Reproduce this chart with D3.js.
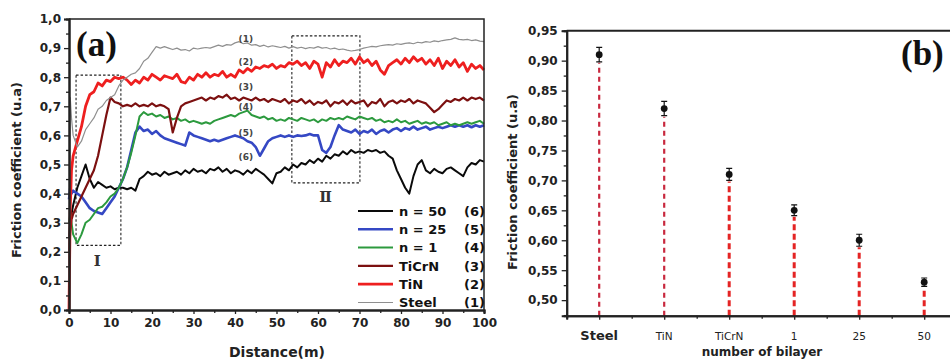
<!DOCTYPE html>
<html>
<head>
<meta charset="utf-8">
<script src="https://cdn.jsdelivr.net/npm/d3@7"></script>
<style>
  html, body { margin: 0; padding: 0; background: #fff; }
  svg { display: block; }
  text { font-family: "DejaVu Sans", "Liberation Sans", Arial, sans-serif; }
</style>
</head>
<body>
<svg id="chart" width="950" height="361"></svg>
<script>
// ---------- panel (a): friction coefficient versus sliding distance ----------
// sampling grid in metres: a few early samples, then every metre
const distance = [0, 0.3, 0.6].concat(d3.range(1, 101));

const steel = [0.10, 0.73, 0.66,
  0.60, 0.56, 0.58, 0.62, 0.64, 0.66, 0.69, 0.70, 0.72, 0.73,
  0.74, 0.77, 0.79, 0.80, 0.81, 0.815, 0.83, 0.855, 0.865, 0.885,
  0.905, 0.90, 0.905, 0.90, 0.895, 0.90, 0.893, 0.895, 0.89, 0.90,
  0.897, 0.90, 0.902, 0.90, 0.905, 0.91, 0.906, 0.912, 0.91, 0.918,
  0.922, 0.915, 0.918, 0.91, 0.912, 0.906, 0.91, 0.904, 0.908, 0.905,
  0.902, 0.906, 0.90, 0.905, 0.90, 0.903, 0.898, 0.902, 0.90, 0.905,
  0.90, 0.902, 0.897, 0.90, 0.895, 0.897, 0.893, 0.89, 0.892, 0.895,
  0.90, 0.903, 0.906, 0.904, 0.908, 0.91, 0.912, 0.91, 0.915, 0.913,
  0.916, 0.918, 0.915, 0.92, 0.918, 0.922, 0.92, 0.925, 0.922, 0.926,
  0.928, 0.93, 0.935, 0.93, 0.928, 0.93, 0.926, 0.928, 0.924, 0.922];

const tin = [0.00, 0.35, 0.48,
  0.53, 0.58, 0.63, 0.70, 0.74, 0.75, 0.78, 0.77, 0.79, 0.785,
  0.80, 0.795, 0.80, 0.79, 0.775, 0.79, 0.78, 0.80, 0.79, 0.81,
  0.80, 0.79, 0.805, 0.80, 0.795, 0.81, 0.785, 0.78, 0.80, 0.79,
  0.81, 0.80, 0.815, 0.80, 0.81, 0.805, 0.82, 0.80, 0.81, 0.80,
  0.825, 0.815, 0.83, 0.82, 0.835, 0.83, 0.84, 0.835, 0.845, 0.83,
  0.84, 0.835, 0.85, 0.845, 0.855, 0.84, 0.85, 0.83, 0.855, 0.845,
  0.80, 0.85, 0.835, 0.86, 0.84, 0.855, 0.85, 0.865, 0.845, 0.87,
  0.85, 0.86, 0.84, 0.855, 0.825, 0.81, 0.84, 0.85, 0.86, 0.845,
  0.865, 0.85, 0.87, 0.855, 0.865, 0.845, 0.86, 0.84, 0.865, 0.83,
  0.855, 0.84, 0.86, 0.835, 0.85, 0.82, 0.845, 0.83, 0.84, 0.825];

const ticrn = [0.20, 0.27, 0.31,
  0.33, 0.36, 0.39, 0.42, 0.45, 0.48, 0.53, 0.60, 0.67, 0.73,
  0.715, 0.71, 0.70, 0.705, 0.70, 0.71, 0.70, 0.705, 0.70, 0.71,
  0.70, 0.705, 0.70, 0.69, 0.61, 0.66, 0.70, 0.71, 0.715, 0.72,
  0.725, 0.73, 0.72, 0.73, 0.725, 0.735, 0.73, 0.74, 0.725, 0.73,
  0.72, 0.73, 0.725, 0.72, 0.73, 0.72, 0.725, 0.715, 0.725, 0.72,
  0.715, 0.725, 0.71, 0.72, 0.715, 0.725, 0.71, 0.72, 0.705, 0.715,
  0.71, 0.72, 0.70, 0.715, 0.71, 0.72, 0.705, 0.72, 0.71, 0.715,
  0.72, 0.70, 0.715, 0.71, 0.725, 0.70, 0.715, 0.72, 0.71, 0.72,
  0.715, 0.725, 0.71, 0.72, 0.715, 0.71, 0.695, 0.68, 0.69, 0.705,
  0.72, 0.715, 0.725, 0.72, 0.73, 0.72, 0.73, 0.725, 0.73, 0.72];

const n1 = [0.30, 0.33, 0.30,
  0.26, 0.23, 0.26, 0.30, 0.31, 0.33, 0.35, 0.355, 0.37, 0.39,
  0.40, 0.42, 0.45, 0.49, 0.54, 0.60, 0.665, 0.68, 0.67, 0.675,
  0.665, 0.67, 0.66, 0.665, 0.655, 0.66, 0.65, 0.655, 0.645, 0.65,
  0.645, 0.64, 0.645, 0.64, 0.65, 0.655, 0.66, 0.665, 0.67, 0.665,
  0.675, 0.68, 0.685, 0.67, 0.665, 0.66, 0.665, 0.655, 0.66, 0.65,
  0.655, 0.65, 0.66, 0.655, 0.65, 0.66, 0.655, 0.65, 0.655, 0.645,
  0.655, 0.65, 0.66, 0.655, 0.66, 0.655, 0.665, 0.66, 0.655, 0.665,
  0.66, 0.655, 0.66, 0.65, 0.655, 0.645, 0.65, 0.645, 0.655, 0.645,
  0.65, 0.64, 0.645, 0.65, 0.64, 0.645, 0.64, 0.645, 0.635, 0.64,
  0.645, 0.635, 0.64, 0.635, 0.64, 0.645, 0.64, 0.645, 0.65, 0.64];

const n25 = [0.38, 0.42, 0.40,
  0.41, 0.40, 0.39, 0.37, 0.35, 0.34, 0.335, 0.33, 0.35, 0.37,
  0.39, 0.42, 0.45, 0.49, 0.55, 0.61, 0.63, 0.615, 0.62, 0.605,
  0.615, 0.60, 0.59, 0.585, 0.58, 0.575, 0.57, 0.565, 0.61, 0.60,
  0.595, 0.59, 0.585, 0.58, 0.585, 0.58, 0.585, 0.59, 0.595, 0.60,
  0.595, 0.59, 0.58, 0.575, 0.56, 0.53, 0.555, 0.58, 0.59, 0.595,
  0.60, 0.595, 0.60, 0.595, 0.60, 0.598, 0.60, 0.605, 0.60, 0.60,
  0.55, 0.54, 0.56, 0.60, 0.635, 0.62, 0.615, 0.61, 0.62, 0.605,
  0.615, 0.61, 0.62, 0.605, 0.615, 0.62, 0.61, 0.62, 0.625, 0.615,
  0.625, 0.62, 0.63, 0.62, 0.625, 0.63, 0.62, 0.625, 0.63, 0.625,
  0.63, 0.635, 0.63, 0.635, 0.63, 0.635, 0.628, 0.635, 0.63, 0.635];

const n50 = [0.25, 0.30, 0.33,
  0.36, 0.42, 0.46, 0.50, 0.45, 0.42, 0.44, 0.43, 0.42, 0.425,
  0.415, 0.42, 0.42, 0.415, 0.42, 0.41, 0.45, 0.46, 0.475, 0.465,
  0.47, 0.46, 0.475, 0.465, 0.47, 0.475, 0.465, 0.48, 0.47, 0.485,
  0.475, 0.48, 0.47, 0.485, 0.48, 0.49, 0.475, 0.485, 0.47, 0.48,
  0.475, 0.465, 0.48, 0.47, 0.485, 0.475, 0.465, 0.45, 0.435, 0.47,
  0.475, 0.49, 0.48, 0.50, 0.49, 0.505, 0.50, 0.515, 0.505, 0.52,
  0.51, 0.53, 0.52, 0.535, 0.53, 0.545, 0.535, 0.55, 0.54, 0.545,
  0.54, 0.55, 0.545, 0.55, 0.54, 0.545, 0.53, 0.52, 0.48, 0.45,
  0.42, 0.40, 0.46, 0.50, 0.515, 0.48, 0.47, 0.485, 0.475, 0.47,
  0.485, 0.49, 0.48, 0.47, 0.46, 0.49, 0.505, 0.50, 0.515, 0.51];

// legend order (top to bottom) and curve numbers
const seriesNames = ["n = 50", "n = 25", "n = 1", "TiCrN", "TiN", "Steel"];
const seriesNumbers = ["(6)", "(5)", "(4)", "(3)", "(2)", "(1)"];
const seriesValues = [n50, n25, n1, ticrn, tin, steel];

const distanceTicks = d3.range(0, 101, 10);
const frictionTicksA = d3.range(0, 10.5, 1).map(d => d / 10);

// ---------- panel (b): mean friction coefficient per coating ----------
const layers = ["Steel", "TiN", "TiCrN", "1", "25", "50"];
const meanFriction = [0.91, 0.82, 0.71, 0.65, 0.60, 0.53];
const frictionError = [0.012, 0.012, 0.010, 0.009, 0.010, 0.007];
const frictionTicksB = [0.50, 0.55, 0.60, 0.65, 0.70, 0.75, 0.80, 0.85, 0.90, 0.95];

// ---------- styles ----------
const seriesStyle = [
  { color: "#0a0a0a", width: 2.0 },
  { color: "#3548c4", width: 2.6 },
  { color: "#2c9a3e", width: 2.0 },
  { color: "#7c1010", width: 2.2 },
  { color: "#ee1f1f", width: 2.8 },
  { color: "#8f8f8f", width: 1.2 }
];
const axisColor = "#222";

const comma = d3.formatLocale({ decimal: ",", thousands: ".", grouping: [3], currency: ["", ""] });
const fmt1 = comma.format(".1f");
const fmt2 = comma.format(".2f");

const svg = d3.select("#chart");
svg.append("rect").attr("width", 950).attr("height", 361).attr("fill", "#fff");

// =============== panel (a) ===============
const xA = d3.scaleLinear().domain([0, 100]).range([69, 484]);
const yA = d3.scaleLinear().domain([0, 1]).range([310, 19]);

const gA = svg.append("g");

// dashed zoom boxes I and II (data units)
const zoomBoxes = [
  { x0: 1.7, x1: 12.5, y0: 0.222, y1: 0.807, label: "I", lx: 6.8, ly: 0.151 },
  { x0: 53.7, x1: 70.1, y0: 0.437, y1: 0.942, label: "Ⅱ", lx: 61.8, ly: 0.372 }
];
zoomBoxes.forEach(b => {
  gA.append("rect")
    .attr("x", xA(b.x0)).attr("y", yA(b.y1))
    .attr("width", xA(b.x1) - xA(b.x0)).attr("height", yA(b.y0) - yA(b.y1))
    .attr("fill", "none").attr("stroke", "#222").attr("stroke-width", 1.1)
    .attr("stroke-dasharray", "2.5,2");
  gA.append("text")
    .attr("x", xA(b.lx)).attr("y", yA(b.ly))
    .attr("text-anchor", "middle")
    .style("font-family", "'DejaVu Serif', 'Liberation Serif', serif")
    .style("font-size", "15px").style("font-weight", "bold").attr("fill", "#333")
    .text(b.label);
});

// curves
const lineA = d3.line().x((d, i) => xA(distance[i])).y(d => yA(d));
seriesValues.forEach((vals, k) => {
  gA.append("path")
    .datum(vals)
    .attr("d", lineA)
    .attr("fill", "none")
    .attr("stroke", seriesStyle[k].color)
    .attr("stroke-width", seriesStyle[k].width)
    .attr("stroke-linejoin", "round");
});

// curve numbers above each curve
const curveLabelY = [0.526, 0.608, 0.698, 0.766, 0.852, 0.93];
seriesNumbers.forEach((t, k) => {
  gA.append("text")
    .attr("x", xA(42.6)).attr("y", yA(curveLabelY[k]) + 3)
    .attr("text-anchor", "middle")
    .style("font-size", "9px").style("font-weight", "bold")
    .attr("fill", "#444")
    .text(t);
});

// axes
gA.append("g").attr("transform", `translate(${xA(0)},0)`)
  .call(d3.axisLeft(yA).tickValues(frictionTicksA).tickFormat(fmt1).tickSize(5).tickPadding(3));
gA.append("g").attr("transform", `translate(${xA(0)},0)`)
  .call(d3.axisLeft(yA).tickValues(frictionTicksA.slice(0, -1).map(v => v + 0.05)).tickFormat("").tickSize(3));
gA.append("g").attr("transform", `translate(0,${yA(0)})`)
  .call(d3.axisBottom(xA).tickValues(distanceTicks).tickFormat(d3.format("d")).tickSize(4).tickPadding(4));
gA.append("g").attr("transform", `translate(0,${yA(0)})`)
  .call(d3.axisBottom(xA).tickValues(distanceTicks.slice(0, -1).map(v => v + 5)).tickFormat("").tickSize(3));

// frame (top and right)
gA.append("path")
  .attr("d", `M${xA(0)},${yA(1)}H${xA(100)}V${yA(0)}`)
  .attr("fill", "none").attr("stroke", axisColor).attr("stroke-width", 1.5);

// legend
const legX = 358, legY0 = 211, legDY = 18.3;
seriesNames.forEach((name, k) => {
  const yy = legY0 + k * legDY;
  gA.append("line")
    .attr("x1", legX).attr("x2", legX + 35).attr("y1", yy).attr("y2", yy)
    .attr("stroke", seriesStyle[k].color)
    .attr("stroke-width", Math.max(seriesStyle[k].width, 1.2));
  gA.append("text").attr("x", legX + 41).attr("y", yy + 4.6)
    .style("font-size", "13px").style("font-weight", "bold").attr("fill", "#111")
    .text(name);
  gA.append("text").attr("x", 464).attr("y", yy + 4.6)
    .style("font-size", "13px").style("font-weight", "bold").attr("fill", "#111")
    .text(seriesNumbers[k]);
});

// panel label and axis titles
gA.append("text").attr("x", 76).attr("y", 56)
  .style("font-family", "'Liberation Serif', 'DejaVu Serif', serif")
  .style("font-size", "35px").style("font-weight", "bold").attr("fill", "#111")
  .text("(a)");
gA.append("text")
  .attr("transform", "translate(21,170) rotate(-90)")
  .attr("text-anchor", "middle")
  .style("font-size", "13px").style("font-weight", "bold").attr("fill", "#222")
  .text("Friction coefficient (u.a)");
gA.append("text").attr("x", 277).attr("y", 357)
  .attr("text-anchor", "middle")
  .style("font-size", "14px").style("font-weight", "bold").attr("fill", "#222")
  .text("Distance(m)");

// =============== panel (b) ===============
const xB = d3.scaleLinear().domain([-0.5, 5.5]).range([566.7, 956.7]);
const yB = d3.scaleLinear().domain([0.474, 0.95]).range([315.7, 30.7]);
const gB = svg.append("g");

// dashed drop lines from the axis up to each mean value
layers.forEach((name, i) => {
  gB.append("line")
    .attr("x1", xB(i)).attr("x2", xB(i))
    .attr("y1", yB(0.474))
    .attr("y2", yB(meanFriction[i] - frictionError[i]) + 1)
    .attr("stroke", i < 2 ? "#c8283e" : "#e42424")
    .attr("stroke-width", i < 2 ? 2.2 : 3)
    .attr("stroke-dasharray", i < 2 ? "5,4" : "6,3.5");
});

// error bars and points
layers.forEach((name, i) => {
  const cx = xB(i);
  const top = yB(meanFriction[i] + frictionError[i]);
  const bot = yB(meanFriction[i] - frictionError[i]);
  gB.append("path")
    .attr("d", `M${cx - 3},${top}H${cx + 3}M${cx},${top}V${bot}M${cx - 3},${bot}H${cx + 3}`)
    .attr("stroke", "#111").attr("stroke-width", 1.2).attr("fill", "none");
  gB.append("circle").attr("cx", cx).attr("cy", yB(meanFriction[i])).attr("r", 3.4)
    .attr("fill", "#111");
});

gB.append("g").attr("transform", `translate(${xB(-0.5)},0)`)
  .call(d3.axisLeft(yB).tickValues(frictionTicksB).tickFormat(fmt2).tickSize(5).tickPadding(4));
gB.append("g").attr("transform", `translate(${xB(-0.5)},0)`)
  .call(d3.axisLeft(yB).tickValues(frictionTicksB.map(v => v - 0.025)).tickFormat("").tickSize(3));
gB.append("g").attr("transform", `translate(0,${yB(0.474)})`)
  .call(d3.axisBottom(xB).tickValues(d3.range(0, 6)).tickFormat("").tickSize(4));
gB.append("g").attr("transform", `translate(0,${yB(0.474)})`)
  .call(d3.axisBottom(xB).tickValues(d3.range(0.5, 5, 1)).tickFormat("").tickSize(3));

// top frame
gB.append("line")
  .attr("x1", xB(-0.5)).attr("x2", 950).attr("y1", yB(0.95)).attr("y2", yB(0.95))
  .attr("stroke", axisColor).attr("stroke-width", 2);

// category labels
layers.forEach((name, i) => {
  gB.append("text").attr("x", xB(i)).attr("y", 339.5)
    .attr("text-anchor", "middle")
    .style("font-size", i === 0 ? "13px" : "10.5px")
    .style("font-weight", i === 0 ? "bold" : "normal")
    .attr("fill", "#222")
    .text(name);
});

gB.append("text").attr("x", 762).attr("y", 356)
  .attr("text-anchor", "middle")
  .style("font-size", "12px").style("font-weight", "bold").attr("fill", "#222")
  .text("number of bilayer");
gB.append("text")
  .attr("transform", "translate(517,182) rotate(-90)")
  .attr("text-anchor", "middle")
  .style("font-size", "13px").style("font-weight", "bold").attr("fill", "#222")
  .text("Friction coefficient (u.a)");
gB.append("text").attr("x", 901).attr("y", 65)
  .style("font-family", "'Liberation Serif', 'DejaVu Serif', serif")
  .style("font-size", "35px").style("font-weight", "bold").attr("fill", "#111")
  .text("(b)");

// shared axis styling
svg.selectAll(".domain").attr("stroke", axisColor).attr("stroke-width", 2);
svg.selectAll(".tick line").attr("stroke", axisColor).attr("stroke-width", 1.3);
svg.selectAll(".tick text")
  .style("font-family", "'DejaVu Sans', sans-serif")
  .style("font-size", "12px").style("font-weight", "bold").attr("fill", "#222");
</script>
</body>
</html>
